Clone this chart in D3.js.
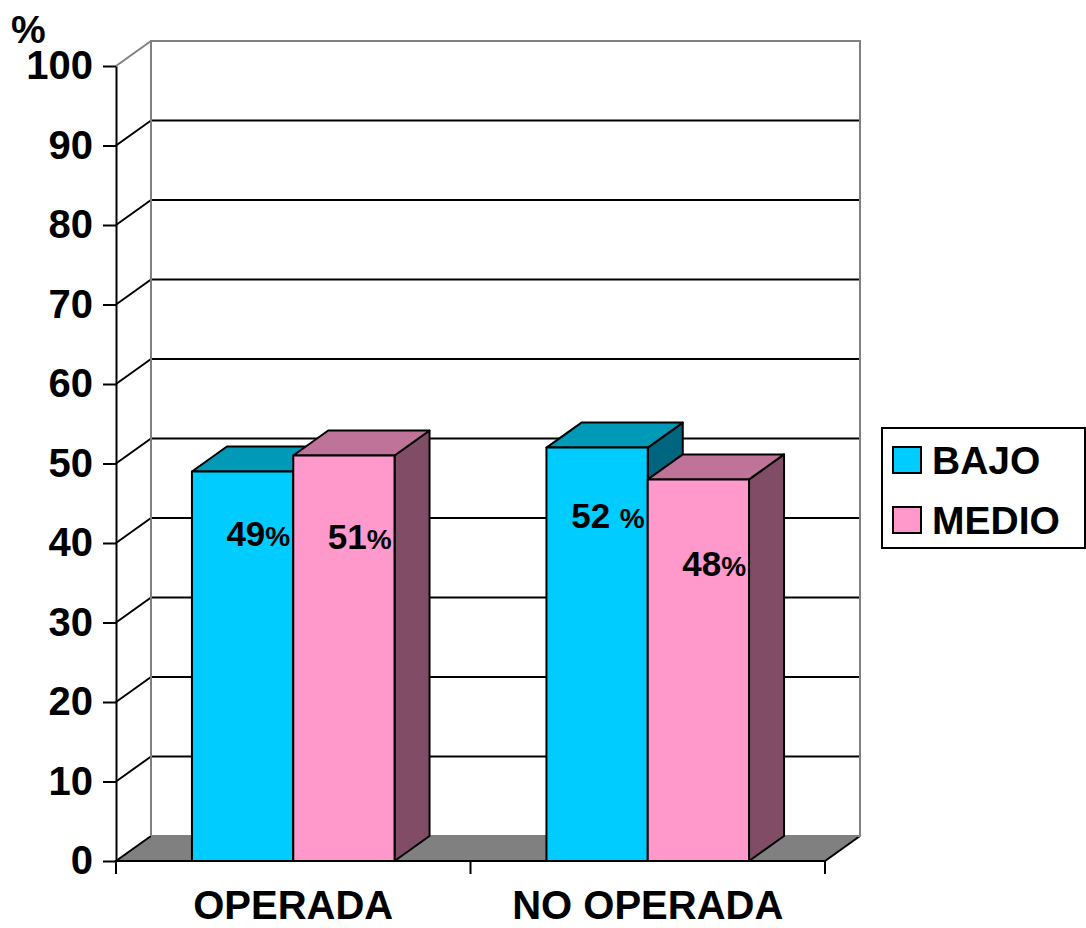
<!DOCTYPE html>
<html>
<head>
<meta charset="utf-8">
<script src="https://cdn.jsdelivr.net/npm/d3@7"></script>
<style>
  html, body { margin: 0; padding: 0; background: #fff; }
  svg { display: block; font-family: "Liberation Sans", Arial, sans-serif; font-weight: bold; }
</style>
</head>
<body>
<svg id="chart" width="1086" height="928"></svg>
<script>
// Data
const categories = ["OPERADA", "NO OPERADA"];
const seriesNames = ["BAJO", "MEDIO"];
const bajoValues = [49, 52];
const medioValues = [51, 48];
const bajoLabels = ["49%", "52 %"];
const medioLabels = ["51%", "48%"];
const yTickValues = [0, 10, 20, 30, 40, 50, 60, 70, 80, 90, 100];

// Styling
const seriesColors = {
  BAJO:  { front: "#00ccff", top: "#0099b8", side: "#006680" },
  MEDIO: { front: "#ff99cc", top: "#bf7399", side: "#804c66" }
};
const depth = { dx: 35, dy: -25 };
const plot = { left: 116, right: 825, top: 66, bottom: 861 };
// small vertical nudges for the in-bar value labels, per series per category
const labelNudge = { BAJO: [75, 80], MEDIO: [93, 97] };

const svg = d3.select("#chart");

const y = d3.scaleLinear().domain([0, 100]).range([plot.bottom, plot.top]);
const x = d3.scaleBand().domain(categories).range([plot.left, plot.right]).paddingInner(0).paddingOuter(0);
const xs = d3.scaleBand().domain(seriesNames).range([0, x.bandwidth()]).paddingInner(0).paddingOuter(0.75);

const series = [
  { name: "BAJO", values: bajoValues, labels: bajoLabels },
  { name: "MEDIO", values: medioValues, labels: medioLabels }
];

const line = d3.line();

// Floor
const floorPts = [
  [plot.left, plot.bottom], [plot.right, plot.bottom],
  [plot.right + depth.dx, plot.bottom + depth.dy], [plot.left + depth.dx, plot.bottom + depth.dy]
];
svg.append("path").attr("d", line(floorPts) + "Z").attr("fill", "#808080").attr("stroke", "none");
svg.append("path")
  .attr("d", line([floorPts[3], floorPts[0], floorPts[1], floorPts[2]]))
  .attr("fill", "none").attr("stroke", "#000").attr("stroke-width", 2);

// Grid lines on the back wall and on the side wall
const grid = svg.append("g");
yTickValues.filter(v => v > 0).forEach(v => {
  const yy = y(v);
  const col = v === 100 ? "#808080" : "#000";
  grid.append("line")
    .attr("x1", plot.left + depth.dx).attr("x2", plot.right + depth.dx)
    .attr("y1", yy + depth.dy).attr("y2", yy + depth.dy)
    .attr("stroke", col).attr("stroke-width", 2);
  grid.append("line")
    .attr("x1", plot.left).attr("x2", plot.left + depth.dx)
    .attr("y1", yy).attr("y2", yy + depth.dy)
    .attr("stroke", col).attr("stroke-width", 2);
});
// back wall frame
grid.append("path")
  .attr("d", line([
    [plot.left + depth.dx, plot.bottom + depth.dy],
    [plot.left + depth.dx, plot.top + depth.dy],
    [plot.right + depth.dx, plot.top + depth.dy],
    [plot.right + depth.dx, plot.bottom + depth.dy]
  ]))
  .attr("fill", "none").attr("stroke", "#808080").attr("stroke-width", 2);
grid.append("line")
  .attr("x1", plot.left + depth.dx).attr("x2", plot.right + depth.dx)
  .attr("y1", plot.bottom + depth.dy).attr("y2", plot.bottom + depth.dy)
  .attr("stroke", "#808080").attr("stroke-width", 2);

// 3D bars
const bars = svg.append("g");
categories.forEach((cat, ci) => {
  series.forEach(s => {
    const v = s.values[ci];
    const x0 = x(cat) + xs(s.name);
    const x1 = x0 + xs.bandwidth();
    const y0 = y(0);
    const y1 = y(v);
    const c = seriesColors[s.name];
    const g = bars.append("g").attr("stroke", "#000").attr("stroke-width", 2).attr("stroke-linejoin", "round");
    // side face
    g.append("path").attr("fill", c.side).attr("d", line([
      [x1, y0], [x1, y1], [x1 + depth.dx, y1 + depth.dy], [x1 + depth.dx, y0 + depth.dy]
    ]) + "Z");
    // top face
    g.append("path").attr("fill", c.top).attr("d", line([
      [x0, y1], [x1, y1], [x1 + depth.dx, y1 + depth.dy], [x0 + depth.dx, y1 + depth.dy]
    ]) + "Z");
    // front face
    g.append("rect").attr("fill", c.front)
      .attr("x", x0).attr("y", y1).attr("width", x1 - x0).attr("height", y0 - y1);
  });
});

// Value labels inside the bars
const labels = svg.append("g");
categories.forEach((cat, ci) => {
  series.forEach(s => {
    const v = s.values[ci];
    const x1 = x(cat) + xs(s.name) + xs.bandwidth();
    const txt = s.labels[ci];
    const m = txt.match(/^(\d+)(\s*)%$/);
    const t = labels.append("text")
      .attr("x", x1 - 3)
      .attr("y", y(v) + labelNudge[s.name][ci])
      .attr("text-anchor", "end")
      .attr("fill", "#000");
    t.append("tspan").attr("font-size", 35).text(m[1] + m[2]);
    t.append("tspan").attr("font-size", 28).text("%");
  });
});

// Y axis
const yAxis = d3.axisLeft(y).tickValues(yTickValues).tickSize(13).tickSizeOuter(0).tickPadding(10);
const gy = svg.append("g").attr("transform", `translate(${plot.left},0)`).call(yAxis);
gy.select(".domain").attr("stroke", "#000").attr("stroke-width", 2);
gy.selectAll(".tick line").attr("stroke", "#000").attr("stroke-width", 2);
gy.selectAll(".tick text")
  .attr("font-size", 40).attr("font-weight", "bold")
  .attr("font-family", "'Liberation Sans', Arial, sans-serif")
  .attr("fill", "#000");

svg.append("text").attr("x", 11).attr("y", 43)
  .attr("font-size", 39).attr("fill", "#000").text("%");

// X axis: ticks at category boundaries, labels centred in each band
const gx = svg.append("g");
const boundaries = categories.map(c => x(c)).concat([x.range()[1]]);
gx.selectAll("line.tick").data(boundaries).join("line")
  .attr("x1", d => d).attr("x2", d => d)
  .attr("y1", plot.bottom).attr("y2", plot.bottom + 13)
  .attr("stroke", "#000").attr("stroke-width", 2);
gx.selectAll("text").data(categories).join("text")
  .attr("x", d => x(d) + x.bandwidth() / 2)
  .attr("y", 919)
  .attr("text-anchor", "middle")
  .attr("font-size", 40)
  .attr("fill", "#000")
  .text(d => d);

// Legend
const legend = svg.append("g");
legend.append("rect")
  .attr("x", 882).attr("y", 428).attr("width", 203).attr("height", 120)
  .attr("fill", "#fff").attr("stroke", "#000").attr("stroke-width", 2);
series.forEach((s, i) => {
  const yy = 447 + i * 60;
  legend.append("rect")
    .attr("x", 893).attr("y", yy).attr("width", 28).attr("height", 26)
    .attr("fill", seriesColors[s.name].front).attr("stroke", "#000").attr("stroke-width", 2);
  legend.append("text")
    .attr("x", 932).attr("y", yy + 27)
    .attr("font-size", 39).attr("fill", "#000").text(s.name);
});
</script>
</body>
</html>
